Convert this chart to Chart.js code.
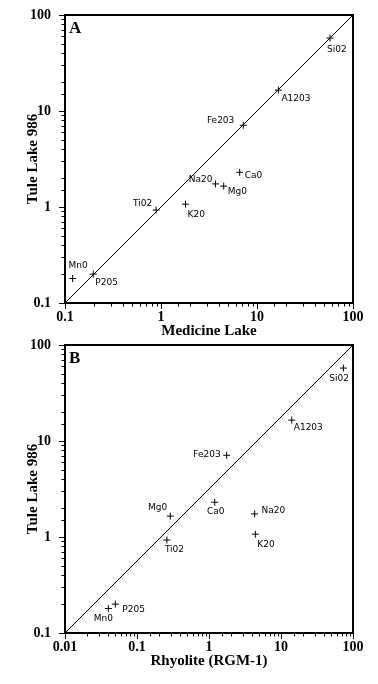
<!DOCTYPE html>
<html>
<head>
<meta charset="utf-8">
<script src="https://cdn.jsdelivr.net/npm/chart.js@4.4.1/dist/chart.umd.min.js"></script>
<style>
    body { margin: 0; background: #fff; }
    #wrap { position: relative; width: 378px; height: 684px; }
    #chartA { position: absolute; left: 0; top: 0; }
    #chartB { position: absolute; left: 0; top: 330px; }
</style>
</head>
<body>
<div id="wrap">
    <canvas id="chartA" width="378" height="340"></canvas>
    <canvas id="chartB" width="378" height="340"></canvas>
</div>
<script>
// oxide names as printed next to each cross
const oxides = ["Si02", "A1203", "Fe203", "Ca0", "Na20", "Mg0", "Ti02", "K20", "Mn0", "P205"];
// Tule Lake 986 (y in both panels)
const tuleLake = [57.5, 16.5, 7.1, 2.3, 1.74, 1.65, 0.93, 1.07, 0.18, 0.2];
// panel A x values
const medicineLake = [57.6, 16.7, 7.2, 6.6, 3.7, 4.5, 0.89, 1.8, 0.12, 0.197];
// panel B x values
const rhyolite = [73.5, 14.1, 1.76, 1.2, 4.3, 0.29, 0.26, 4.4, 0.04, 0.05];

const yTickLabels = ["0.1", "1", "10", "100"];
const xTickLabelsA = ["0.1", "1", "10", "100"];
const xTickLabelsB = ["0.01", "0.1", "1", "10", "100"];

// where each oxide name sits next to its cross: [align, dx, dy]
const placementA = [
    ["left", -3, 12], ["left", 3, 9], ["right", -9, -5], ["left", 5, 3], ["right", -3, -4],
    ["left", 4, 6], ["right", -4, -6], ["left", 2, 10], ["left", -4, -13], ["left", 2, 9]
];
const placementB = [
    ["left", -14, 11], ["left", 2, 8], ["right", -6, -1], ["center", 1, 9], ["left", 7, -3],
    ["right", -3, -8], ["left", -2, 10], ["left", 2, 10], ["center", -5, 10], ["left", 7, 6]
];

function isDecade(v) {
    const lg = Math.log10(v);
    return Math.abs(lg - Math.round(lg)) < 1e-6;
}

function tickCallback(labels) {
    return function (value) {
        if (!isDecade(value)) return "";
        const lg = Math.round(Math.log10(value));
        const hit = labels.find(l => Math.round(Math.log10(Number(l))) === lg);
        return hit || "";
    };
}

// box, tick marks, panel letter and point names
const panelDecor = {
    id: "panelDecor",
    afterDraw(chart, args, opts) {
        const ctx = chart.ctx;
        const a = chart.chartArea;
        const xs = chart.scales.x;
        const ys = chart.scales.y;
        ctx.save();
        ctx.strokeStyle = "#000";
        ctx.fillStyle = "#000";
        ctx.lineWidth = 1;
        xs.ticks.forEach(t => {
            const px = Math.round(xs.getPixelForValue(t.value)) + 0.5;
            const len = isDecade(t.value) ? 6 : 3.5;
            ctx.beginPath();
            ctx.moveTo(px, a.bottom);
            ctx.lineTo(px, a.bottom + len);
            ctx.stroke();
        });
        ys.ticks.forEach(t => {
            const py = Math.round(ys.getPixelForValue(t.value)) + 0.5;
            const len = isDecade(t.value) ? 6 : 3.5;
            ctx.beginPath();
            ctx.moveTo(a.left, py);
            ctx.lineTo(a.left - len, py);
            ctx.stroke();
        });
        ctx.lineWidth = 2;
        ctx.strokeRect(a.left, a.top, a.right - a.left, a.bottom - a.top);

        ctx.font = "bold 17px 'Liberation Serif'";
        ctx.textAlign = "left";
        ctx.textBaseline = "alphabetic";
        ctx.fillText(opts.letter, a.left + 4, a.top + 17.5);

        ctx.font = "9px 'DejaVu Sans'";
        ctx.textBaseline = "middle";
        const meta = chart.getDatasetMeta(1);
        meta.data.forEach((pt, i) => {
            const p = opts.placement[i];
            ctx.textAlign = p[0];
            ctx.fillText(oxides[i], pt.x + p[1], pt.y + p[2]);
        });
        ctx.restore();
    }
};

function makePanel(canvasId, xValues, xMin, xTitle, xLabels, letter, placement) {
    const points = xValues.map((x, i) => ({ x: x, y: tuleLake[i] }));
    const tickFont = { family: "'Liberation Serif'", size: 14, weight: "bold" };
    const titleFont = { family: "'Liberation Serif'", size: 15, weight: "bold" };
    return new Chart(document.getElementById(canvasId), {
        type: "scatter",
        data: {
            datasets: [
                {
                    data: [{ x: xMin, y: 0.1 }, { x: 100, y: 100 }],
                    showLine: true,
                    borderColor: "#000",
                    borderWidth: 1,
                    pointRadius: 0
                },
                {
                    data: points,
                    pointStyle: "cross",
                    pointRadius: 3.5,
                    borderColor: "#000",
                    borderWidth: 1
                }
            ]
        },
        options: {
            responsive: false,
            animation: false,
            layout: { padding: { top: 15, right: 25, left: 0, bottom: 0 } },
            plugins: {
                legend: { display: false },
                tooltip: { enabled: false },
                panelDecor: { letter: letter, placement: placement }
            },
            scales: {
                x: {
                    type: "logarithmic",
                    min: xMin,
                    max: 100,
                    grid: { display: false },
                    border: { display: false },
                    ticks: {
                        autoSkip: false,
                        maxRotation: 0,
                        color: "#000",
                        font: tickFont,
                        padding: -2,
                        callback: tickCallback(xLabels)
                    },
                    title: { display: true, text: xTitle, color: "#000", font: titleFont, padding: 0 },
                    afterFit(scale) { scale.height = 37; }
                },
                y: {
                    type: "logarithmic",
                    min: 0.1,
                    max: 100,
                    grid: { display: false },
                    border: { display: false },
                    ticks: {
                        autoSkip: false,
                        color: "#000",
                        font: tickFont,
                        padding: 6,
                        callback: tickCallback(yTickLabels)
                    },
                    title: { display: true, text: "Tule Lake 986", color: "#000", font: titleFont, padding: { top: 24 } },
                    afterFit(scale) { scale.width = 65; }
                }
            }
        },
        plugins: [panelDecor]
    });
}

makePanel("chartA", medicineLake, 0.1, "Medicine Lake", xTickLabelsA, "A", placementA);
makePanel("chartB", rhyolite, 0.01, "Rhyolite (RGM-1)", xTickLabelsB, "B", placementB);
</script>
</body>
</html>
